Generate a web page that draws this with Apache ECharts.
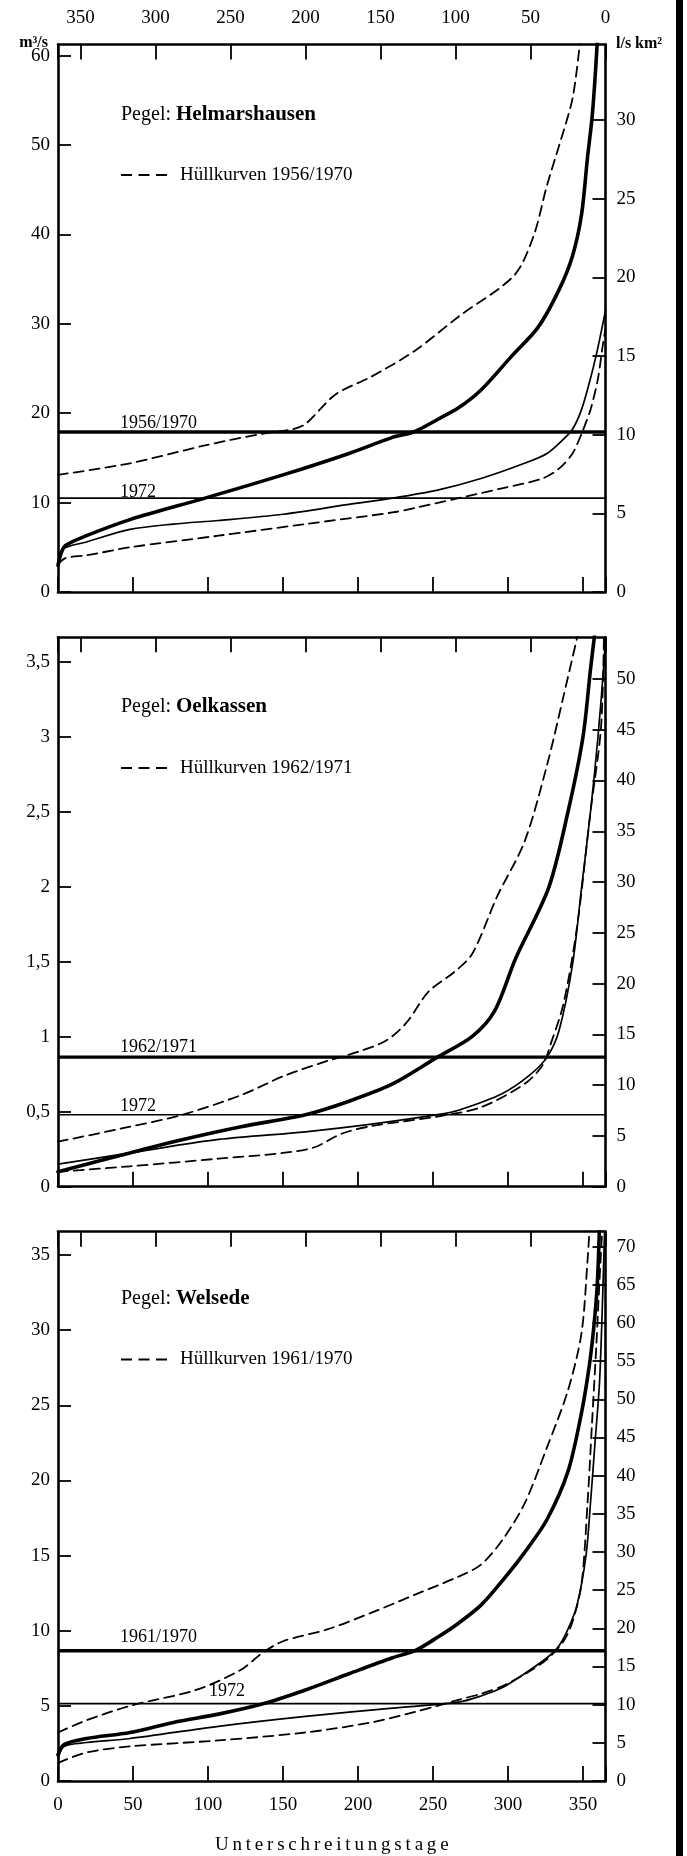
<!DOCTYPE html>
<html>
<head>
<meta charset="utf-8">
<script src="https://cdn.jsdelivr.net/npm/echarts@6/dist/echarts.min.js"></script>
<style>
  html, body { margin: 0; padding: 0; background: #ffffff; }
  #chart { width: 687px; height: 1856px; }
</style>
</head>
<body>
<div id="chart"></div>
<script>
// Dauerlinien des Abflusses: [Unterschreitungstage, Abfluss m³/s]

// Pegel Helmarshausen
const helmMittel = [[0,3.0],[2,4.3],[5,5.2],[19,6.3],[48,8.1],[98,10.5],[150,13.1],[194,15.5],[223,17.3],[237,17.9],[253,19.3],[267,20.6],[282,22.6],[302,26.3],[320,29.6],[334,33.8],[343,37.6],[349,42.2],[353,48.6],[356,53.0],[358,57.4],[359.5,61.5]];
const helm1972 = [[0,3.4],[3,4.8],[19,5.6],[48,7.0],[77,7.6],[107,8.0],[150,8.7],[194,9.8],[223,10.5],[253,11.4],[282,12.7],[311,14.4],[326,15.5],[337,17.1],[343,18.2],[349,20.4],[355,23.9],[360,27.4],[365,31.5]];
const helmMax = [[0,13.1],[48,14.4],[98,16.4],[136,17.7],[156,18.2],[165,18.8],[185,22.1],[209,24.1],[238,27.0],[267,30.8],[304,35.4],[317,39.8],[326,45.5],[334,49.9],[343,55.2],[348,61.5]];
const helmMin = [[0,3.1],[5,3.8],[19,4.1],[48,5.0],[107,6.3],[165,7.6],[223,8.9],[238,9.4],[267,10.5],[296,11.6],[323,12.7],[334,13.8],[343,15.5],[349,17.7],[355,20.4],[360,23.9],[363,27.4],[365,29.5]];
const helmMQ = [17.9, 10.5];            // MQ 1956/1970, MQ 1972

// Pegel Oelkassen
const oelMittel = [[0,0.10],[19,0.15],[48,0.225],[77,0.30],[122,0.40],[165,0.48],[194,0.57],[223,0.685],[253,0.864],[276,1.0],[291,1.17],[305,1.52],[327,1.99],[340,2.5],[350,3.0],[355,3.45],[358,3.7]];
const oel1972 = [[0,0.15],[48,0.225],[107,0.315],[165,0.366],[209,0.417],[253,0.48],[267,0.51],[296,0.62],[314,0.74],[326,0.864],[334,1.04],[343,1.48],[349,1.99],[355,2.5],[360,3.0],[364,3.5],[365,3.7]];
const oelMax = [[0,0.30],[48,0.40],[83,0.48],[122,0.61],[151,0.74],[180,0.84],[194,0.88],[218,0.97],[232,1.09],[247,1.30],[264,1.43],[276,1.55],[293,1.94],[311,2.30],[326,2.81],[337,3.27],[347,3.7]];
const oelMin = [[0,0.10],[48,0.136],[107,0.187],[150,0.225],[171,0.263],[189,0.353],[209,0.404],[253,0.468],[282,0.53],[311,0.685],[323,0.81],[329,0.967],[337,1.22],[346,1.73],[355,2.5],[362,3.06],[364,3.7]];
const oelMQ = [0.864, 0.48];            // MQ 1962/1971, MQ 1972

// Pegel Welsede
const welMittel = [[0,1.75],[4,2.42],[19,2.83],[48,3.23],[77,3.9],[107,4.45],[136,5.12],[165,6.06],[194,7.14],[223,8.2],[238,8.67],[253,9.56],[267,10.5],[282,11.7],[296,13.3],[311,15.2],[326,17.4],[340,20.6],[349,24.5],[354,27.5],[357,30],[359.5,33],[361,37]];
const wel1972 = [[0,1.48],[4,2.3],[19,2.56],[48,2.83],[107,3.64],[165,4.3],[223,4.85],[267,5.25],[282,5.66],[296,6.2],[311,7.14],[326,8.2],[334,9.0],[340,10.1],[346,11.7],[352,15.0],[355,18.5],[358,22.5],[361,26.5],[363,31.9],[364.5,37]];
const welMax = [[0,3.23],[19,4.04],[48,5.0],[92,6.06],[122,7.4],[136,8.5],[150,9.3],[180,10.1],[209,11.2],[238,12.4],[267,13.6],[282,14.4],[296,16.0],[311,18.45],[326,22.2],[340,26.0],[349,29.8],[353,34.6],[354.5,37]];
const welMin = [[0,1.2],[19,1.9],[48,2.3],[107,2.7],[165,3.23],[209,3.9],[238,4.6],[253,5.0],[267,5.4],[282,5.8],[296,6.3],[311,7.1],[326,8.1],[337,9.3],[343,10.6],[349,13.1],[353,18.45],[356,23.8],[359,29.2],[361,33.3],[363,37]];
const welMQ = [8.67, 5.15];             // MQ 1961/1970, MQ 1972

// Achsen: Abfluss links (m³/s), Abflussspende rechts (l/s km²)
const stations = ['Helmarshausen', 'Oelkassen', 'Welsede'];
const seriesYears = ['1956/1970', '1962/1971', '1961/1970'];
const qMax = [61.25, 3.663, 36.55];
const qStep = [10, 0.5, 5];
const spendeMax = [34.8, 54.1, 71.96];
const spendeStep = [5, 5, 5];
const dayMax = 365;
const dayStep = 50;

const curves = [
  [helmMittel, helm1972, helmMax, helmMin],
  [oelMittel, oel1972, oelMax, oelMin],
  [welMittel, wel1972, welMax, welMin]
];
const meanLevels = [helmMQ, oelMQ, welMQ];

// ---- layout ----
const FONT = '"Liberation Serif", "DejaVu Serif", serif';
const PLOT_LEFT = 58, PLOT_W = 547.5;
const gridTop = [44.5, 637.3, 1231.7];
const gridH = [547.5, 549.4, 549.3];
const BORDER = 2.6;
const TICK_FONT = 19;

const isMultiple = (v, step) => Math.abs(v / step - Math.round(v / step)) < 1e-6;
const deComma = v => String(+v.toFixed(2)).replace('.', ',');

const grid = [], xAxis = [], yAxis = [], series = [], graphic = [];

for (let p = 0; p < 3; p++) {
  grid.push({ left: PLOT_LEFT, top: gridTop[p], width: PLOT_W, height: gridH[p], containLabel: false });

  // bottom: Unterschreitungstage
  xAxis.push({
    type: 'value', gridIndex: p, position: 'bottom', min: 0, max: dayMax, interval: dayStep,
    axisLine: { show: true, onZero: false, lineStyle: { color: '#000', width: BORDER } },
    axisTick: { show: true, inside: true, length: 15, lineStyle: { color: '#000', width: 1.8 } },
    splitLine: { show: false },
    axisLabel: {
      show: p === 2, margin: 15, color: '#000', fontFamily: FONT, fontSize: TICK_FONT,
      formatter: v => isMultiple(v, dayStep) ? String(v) : ''
    },
    name: p === 2 ? 'U\u2009n\u2009t\u2009e\u2009r\u2009s\u2009c\u2009h\u2009r\u2009e\u2009i\u2009t\u2009u\u2009n\u2009g\u2009s\u2009t\u2009a\u2009g\u2009e' : '',
    nameLocation: 'middle', nameGap: 55,
    nameTextStyle: { color: '#000', fontFamily: FONT, fontSize: 19 }
  });
  // top: Überschreitungstage (reversed)
  xAxis.push({
    type: 'value', gridIndex: p, position: 'top', inverse: true, min: 0, max: dayMax, interval: dayStep,
    axisLine: { show: true, onZero: false, lineStyle: { color: '#000', width: BORDER } },
    axisTick: { show: true, inside: true, length: 15, lineStyle: { color: '#000', width: 1.8 } },
    splitLine: { show: false },
    axisLabel: {
      show: p === 0, margin: 17, color: '#000', fontFamily: FONT, fontSize: TICK_FONT,
      formatter: v => isMultiple(v, dayStep) ? String(v) : ''
    }
  });
  // left: Abfluss
  yAxis.push({
    type: 'value', gridIndex: p, position: 'left', min: 0, max: qMax[p], interval: qStep[p],
    axisLine: { show: true, onZero: false, lineStyle: { color: '#000', width: BORDER } },
    axisTick: { show: true, inside: true, length: 13, lineStyle: { color: '#000', width: 1.8 } },
    splitLine: { show: false },
    axisLabel: {
      margin: 8, color: '#000', fontFamily: FONT, fontSize: TICK_FONT, showMaxLabel: false,
      formatter: v => isMultiple(v, qStep[p]) ? deComma(v) : ''
    }
  });
  // right: Abflussspende
  yAxis.push({
    type: 'value', gridIndex: p, position: 'right', min: 0, max: spendeMax[p], interval: spendeStep[p],
    axisLine: { show: true, onZero: false, lineStyle: { color: '#000', width: BORDER } },
    axisTick: { show: true, inside: true, length: 13, lineStyle: { color: '#000', width: 1.8 } },
    splitLine: { show: false },
    axisLabel: {
      margin: 11, color: '#000', fontFamily: FONT, fontSize: TICK_FONT, showMaxLabel: false,
      formatter: v => isMultiple(v, spendeStep[p]) ? String(v) : ''
    }
  });

  const xi = p * 2, yi = p * 2;
  const [mittel, y1972, hMax, hMin] = curves[p];
  const line = (name, data, width, type) => ({
    name, type: 'line', xAxisIndex: xi, yAxisIndex: yi, data,
    showSymbol: false, symbol: 'none', smooth: 0.3, clip: true,
    lineStyle: { color: '#000', width, type, cap: 'round', join: 'round' },
    emphasis: { disabled: true }, silent: true, z: 3
  });
  series.push(line('Dauerlinie ' + seriesYears[p], mittel, 3.6, 'solid'));
  series.push(line('Dauerlinie 1972', y1972, 1.7, 'solid'));
  series.push(line('Hüllkurve oben', hMax, 1.8, [10, 6]));
  series.push(line('Hüllkurve unten', hMin, 1.8, [10, 6]));
  const flat = (name, v, width) => ({
    name, type: 'line', xAxisIndex: xi, yAxisIndex: yi,
    data: [[0, v], [dayMax, v]], showSymbol: false, symbol: 'none',
    lineStyle: { color: '#000', width }, silent: true, z: 2
  });
  series.push(flat('MQ ' + seriesYears[p], meanLevels[p][0], 3.4));
  series.push(flat('MQ 1972', meanLevels[p][1], 1.6));
}

// Beschriftungen in den Diagrammen
const textStyle = (text, size, extra) => Object.assign({
  text, fill: '#000', fontFamily: FONT, fontSize: size, verticalAlign: 'middle', align: 'left'
}, extra || {});

const pegelY = [115, 707, 1298.5];
const huellY = [175, 768, 1359.5];
const mqLabel = [
  [{ x: 120, y: 423 }, { x: 120, y: 492 }],
  [{ x: 120, y: 1047 }, { x: 120, y: 1106.5 }],
  [{ x: 120, y: 1637 }, { x: 209, y: 1691.5 }]
];

for (let p = 0; p < 3; p++) {
  graphic.push({
    type: 'text', x: 121, y: pegelY[p], silent: true,
    style: textStyle('{r|Pegel: }{b|' + stations[p] + '}', 20, {
      rich: {
        r: { fontFamily: FONT, fontSize: 20, fill: '#000' },
        b: { fontFamily: FONT, fontSize: 21, fontWeight: 'bold', fill: '#000' }
      }
    })
  });
  graphic.push({
    type: 'line', silent: true,
    shape: { x1: 121, y1: huellY[p], x2: 167, y2: huellY[p] },
    style: { stroke: '#000', lineWidth: 1.8, lineDash: [11, 6.5] }
  });
  graphic.push({
    type: 'text', x: 180, y: huellY[p], silent: true,
    style: textStyle('Hüllkurven ' + seriesYears[p], 19)
  });
  graphic.push({
    type: 'text', x: mqLabel[p][0].x, y: mqLabel[p][0].y, silent: true,
    style: textStyle(seriesYears[p], 18)
  });
  graphic.push({
    type: 'text', x: mqLabel[p][1].x, y: mqLabel[p][1].y, silent: true,
    style: textStyle('1972', 18)
  });
}

// Einheiten
graphic.push({
  type: 'text', x: 48, y: 43, silent: true,
  style: textStyle('m³/s', 16, { align: 'right', fontWeight: 'bold' })
});
graphic.push({
  type: 'text', x: 616, y: 44, silent: true,
  style: textStyle('l/s km²', 16, { fontWeight: 'bold' })
});
// Seitenrand
graphic.push({
  type: 'rect', silent: true,
  shape: { x: 676, y: 0, width: 7, height: 1856 },
  style: { fill: '#000' }
});

const chart = echarts.init(document.getElementById('chart'), null, { renderer: 'canvas' });
chart.setOption({
  backgroundColor: '#ffffff',
  animation: false,
  grid, xAxis, yAxis, series, graphic
});
</script>
</body>
</html>
